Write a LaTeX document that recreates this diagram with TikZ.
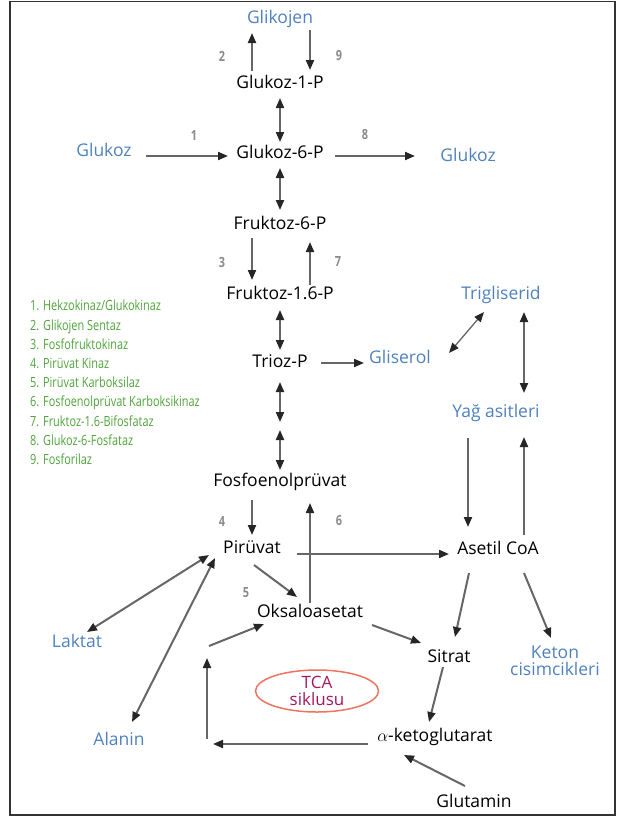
\documentclass[tikz,border=0pt]{standalone}
\usepackage{fontspec}
\setmainfont{Open Sans}
\newfontfamily\legendfont[FakeStretch=0.78]{Open Sans}
\usetikzlibrary{arrows.meta, shapes.geometric}
\definecolor{CBlue}{HTML}{4F81BD}
\definecolor{CGreen}{HTML}{4EA43A}
\definecolor{CGrayNum}{HTML}{8A8A8A}
\definecolor{CLine}{HTML}{666666}
\definecolor{CMagenta}{HTML}{A3175E}
\definecolor{CSalmon}{HTML}{EE7360}
\tikzset{headtip/.tip={Triangle[length=10pt, width=8pt, color=black!85]}}

\begin{document}
\begin{tikzpicture}[x=1pt, y=-1pt,
  met/.style={font=\fontsize{17.5}{17}\selectfont, text height=13pt, text depth=4pt, inner sep=1pt},
  ext/.style={met, text=CBlue},
  num/.style={font=\legendfont\fontsize{14}{14}\selectfont\bfseries, text=CGrayNum},
  arr/.style={draw=CLine, line width=2pt, -headtip},
  dbl/.style={arr, headtip-headtip}]
  \useasboundingbox (0,0) rectangle (617,820);
  \draw[line width=1.5pt, draw=black!80] (10,1.5) rectangle (615,815);
  % Glycolysis / gluconeogenesis column
  \node[ext] (glk) at (280,19) {Glikojen};
  \node[met] (g1p) at (280,84) {Glukoz-1-P};
  \node[ext] (gluA) at (104,152) {Glukoz};
  \node[met] (g6p) at (280,154) {Glukoz-6-P};
  \node[ext] (gluB) at (468,157) {Glukoz};
  \node[met] (f6p) at (280,225) {Fruktoz-6-P};
  \node[met] (f16p) at (280,295) {Fruktoz-1.6-P};
  \node[met] (trioz) at (280,363) {Trioz-P};
  \node[met] (pep) at (280,482) {Fosfoenolprüvat};
  \node[met] (pir) at (252,549) {Pirüvat};
  \node[met] (oks) at (310,613) {Oksaloasetat};
  \coordinate (tpmid) at (280,426);
  % Lipids
  \node[ext] (gli) at (400,359) {Gliserol};
  \node[ext] (tri) at (501,295) {Trigliserid};
  \node[ext] (yag) at (496,413) {Yağ asitleri};
  \node[met] (ace) at (498,550) {Asetil CoA};
  \node[ext, font=\fontsize{17.5}{17.3}\selectfont, align=center, inner sep=1pt] (ket) at (555,671) {Keton\\cisimcikleri};
  % TCA cycle
  \node[met] (sit) at (449,658) {Sitrat};
  \node[met] (akg) at (435,737) {$\alpha$-ketoglutarat};
  \node[met] (glu) at (474,803) {Glutamin};
  \node[ext] (lak) at (77,643) {Laktat};
  \node[ext] (ala) at (119,741) {Alanin};
  \node[ellipse, draw=CSalmon, line width=1.5pt, minimum width=123pt, minimum height=42pt, inner sep=0pt,
        align=center, text=CMagenta, font=\fontsize{17}{17}\selectfont] (tca) at (317,691) {TCA\\siklusu};
  \coordinate (tcaA) at (213,744);
  \coordinate (tcaB) at (207,739);
  \coordinate (tcaC) at (207,658);
  \coordinate (tcaD) at (209,646);
  % Enzymes
  \node[anchor=north west, align=left, inner sep=0pt, text=CGreen, font=\legendfont\fontsize{14}{19.2}\selectfont] (leg) at (30,300)
    {1. Hekzokinaz/Glukokinaz\\2. Glikojen Sentaz\\3. Fosfofruktokinaz\\4. Pirüvat Kinaz\\5. Pirüvat Karboksilaz\\
     6. Fosfoenolprüvat Karboksikinaz\\7. Fruktoz-1.6-Bifosfataz\\8. Glukoz-6-Fosfataz\\9. Fosforilaz};
  \node[num] (n1) at (194,135) {1};
  \node[num] (n2) at (222,56) {2};
  \node[num] (n3) at (222,262) {3};
  \node[num] (n4) at (222,521) {4};
  \node[num] (n5) at (246,593) {5};
  \node[num] (n6) at (339,521) {6};
  \node[num] (n7) at (338,262) {7};
  \node[num] (n8) at (365,135) {8};
  \node[num] (n9) at (339,56) {9};
  % Arrows
  \draw[arr] ([shift={(-28,-13)}]g1p.center) -- ([shift={(-28,14)}]glk.center);
  \draw[arr] ([shift={(30,11)}]glk.center) -- ([shift={(30,-14)}]g1p.center);
  \draw[dbl] ([shift={(0,14)}]g1p.center) -- ([shift={(0,-12)}]g6p.center);
  \draw[arr] ([shift={(42,4)}]gluA.center) -- ([shift={(-52,2)}]g6p.center);
  \draw[arr] ([shift={(55,2)}]g6p.center) -- ([shift={(-53,-1)}]gluB.center);
  \draw[dbl] ([shift={(0,14)}]g6p.center) -- ([shift={(0,-15)}]f6p.center);
  \draw[arr] ([shift={(-28,13)}]f6p.center) -- ([shift={(-28,-15)}]f16p.center);
  \draw[arr] ([shift={(30,-10)}]f16p.center) -- ([shift={(30,17)}]f6p.center);
  \draw[dbl] ([shift={(0,15)}]f16p.center) -- ([shift={(0,-13)}]trioz.center);
  \draw[dbl] ([shift={(0,19)}]trioz.center) -- ([shift={(0,-4)}]tpmid);
  \draw[dbl] ([shift={(0,4)}]tpmid) -- ([shift={(0,-12)}]pep.center);
  \draw[arr] ([shift={(41,0)}]trioz.center) -- ([shift={(-36,4)}]gli.center);
  \draw[dbl, line width=1.3pt] ([shift={(49,-6)}]gli.center) -- ([shift={(-17,17)}]tri.center);
  \draw[dbl] ([shift={(23,17)}]tri.center) -- ([shift={(28,-20)}]yag.center);
  \draw[arr] ([shift={(-28,25)}]yag.center) -- ([shift={(-30,-23)}]ace.center);
  \draw[arr] ([shift={(26,-15)}]ace.center) -- ([shift={(28,24)}]yag.center);
  \draw[arr] ([shift={(-28,18)}]pep.center) -- ([shift={(0,-14)}]pir.center);
  \draw[arr] ([shift={(0,-10)}]oks.center) -- ([shift={(30,21)}]pep.center);
  \draw[arr] ([shift={(45,5)}]pir.center) -- ([shift={(-49,4)}]ace.center);
  \draw[arr] ([shift={(2,16)}]pir.center) -- ([shift={(-13,-16)}]oks.center);
  \draw[dbl] ([shift={(10,-11)}]lak.center) -- ([shift={(-43,6)}]pir.center);
  \draw[dbl] ([shift={(13,-19)}]ala.center) -- ([shift={(-37,9)}]pir.center);
  \draw[arr] ([shift={(62,12)}]oks.center) -- ([shift={(-28,-15)}]sit.center);
  \draw[arr] ([shift={(-29,23)}]ace.center) -- ([shift={(6,-21)}]sit.center);
  \draw[arr] ([shift={(26,23)}]ace.center) -- ([shift={(-4,-33)}]ket.center);
  \draw[arr] ([shift={(-6,9)}]sit.center) -- ([shift={(-6,-15)}]akg.center);
  \draw[arr] ([shift={(-67,7)}]akg.center) -- (tcaA);
  \draw[arr] (tcaB) -- (tcaC);
  \draw[arr] (tcaD) -- ([shift={(-46,11)}]oks.center);
  \draw[arr] ([shift={(-9,-17)}]glu.center) -- ([shift={(-31,18)}]akg.center);
\end{tikzpicture}
\end{document}
